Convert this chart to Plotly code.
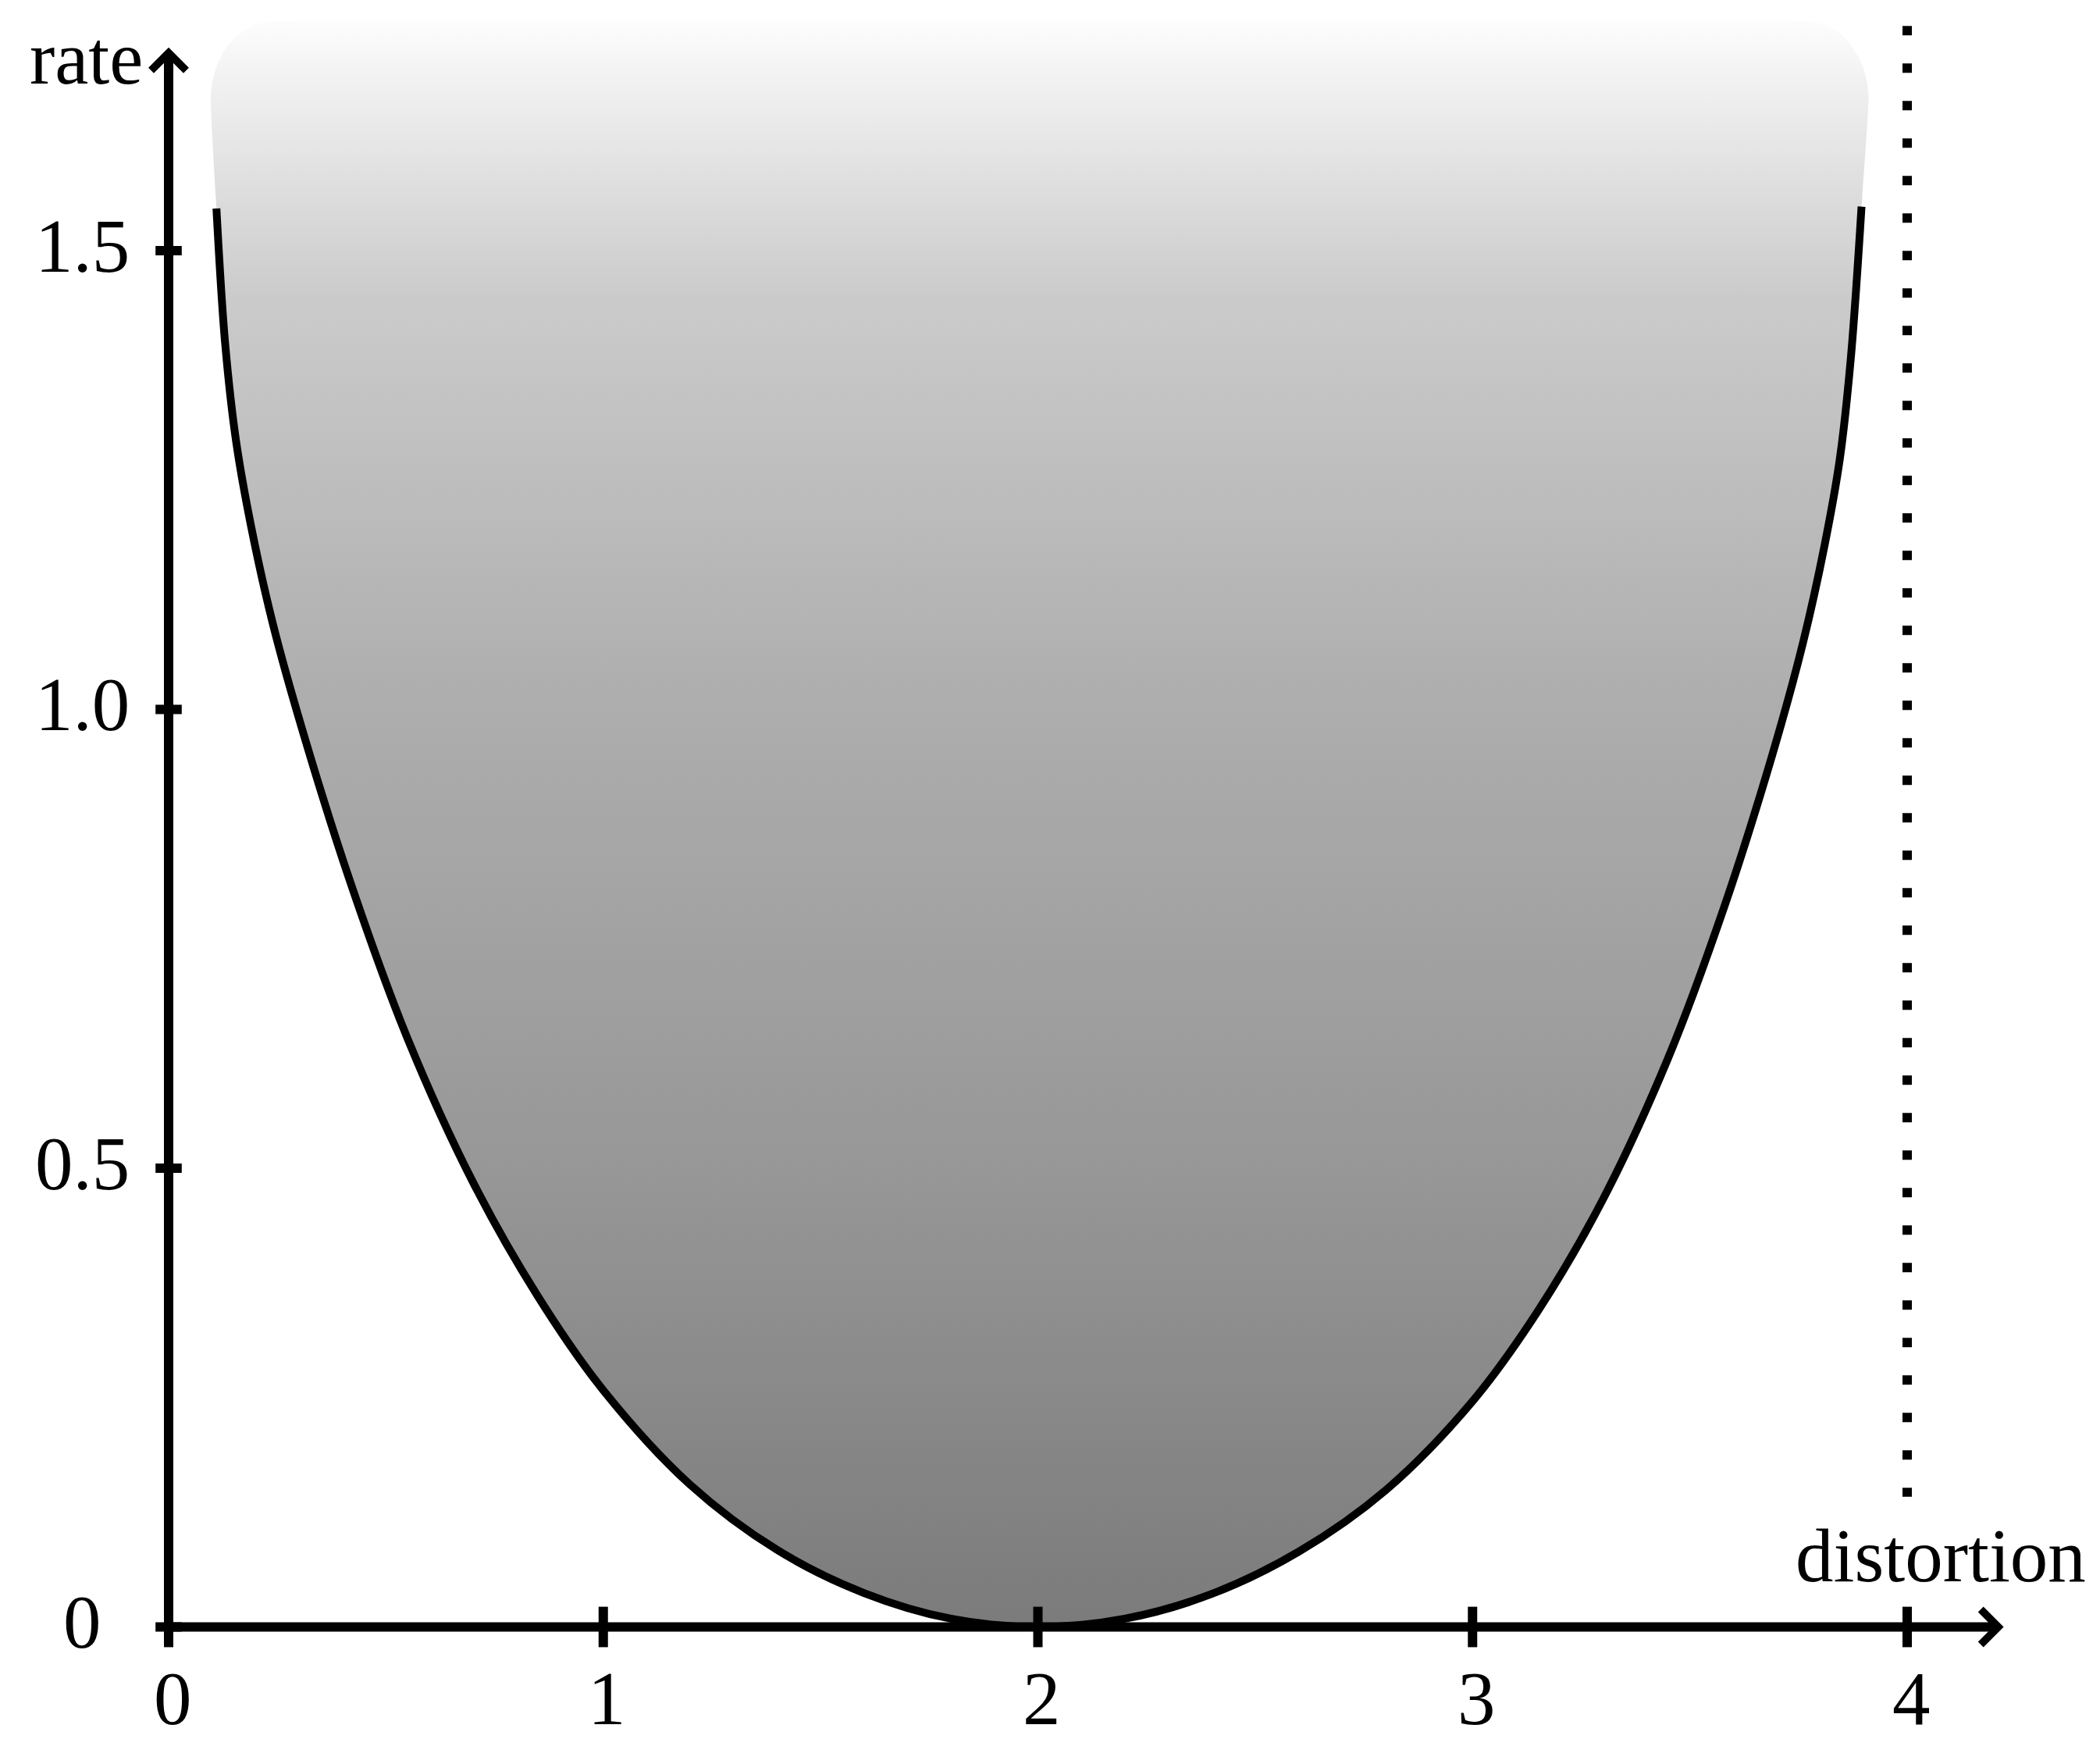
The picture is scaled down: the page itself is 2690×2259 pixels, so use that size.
import numpy as np
import plotly.graph_objects as go

# ---------------- data ----------------
distortion = [0.110, 0.130, 0.155, 0.190, 0.240, 0.310, 0.420, 0.550, 0.700, 0.850,
              1.000, 1.200, 1.400, 1.600, 1.800, 2.000,
              2.200, 2.400, 2.600, 2.800, 3.000, 3.150, 3.300, 3.450, 3.580, 3.690,
              3.760, 3.810, 3.845, 3.870, 3.895]
rate = [1.546, 1.399, 1.293, 1.199, 1.093, 0.974, 0.809, 0.641, 0.485, 0.360,
        0.258, 0.155, 0.084, 0.037, 0.009, 0.000,
        0.009, 0.036, 0.082, 0.149, 0.246, 0.344, 0.466, 0.620, 0.786, 0.951,
        1.072, 1.179, 1.273, 1.381, 1.548]

x_ticks = [0, 1, 2, 3, 4]
x_tick_labels = ["0", "1", "2", "3", "4"]
y_ticks = [0, 0.5, 1.0, 1.5]
y_tick_labels = ["0", "0.5", "1.0", "1.5"]

d_max = 4               # dotted vertical line
region_top = 1.75       # top of the shaded achievable region
region_left = 0.097
region_right = 3.911

x_label = "distortion"
y_label = "rate"

# ---------------- layout constants ----------------
W, H = 2690, 2259
PAGE_OFFSET = 8                # default body margin of the html page
X0PX, UX = 216.0 - PAGE_OFFSET, 556.75   # pixel of x=0 inside the figure, px per x unit
Y0PX, UY = 2083.5 - PAGE_OFFSET, 1175.0  # pixel of y=0 (from top), px per y unit
x_range = [-X0PX / UX, (W - X0PX) / UX]
y_range = [-(H - Y0PX) / UY, Y0PX / UY]

FONT = "Liberation Serif"
FS = 97
LW = 12

rx = 80 / UX
ry = 100 / UY


def arc(cx, cy, a0, a1, n=16):
    t = np.linspace(a0, a1, n)
    return list(cx + rx * np.cos(t)), list(cy + ry * np.sin(t))


# shaded region polygon: curve + rounded top
fx = list(distortion)
fy = list(rate)
ax_, ay_ = arc(region_right - rx, region_top - ry, 0, np.pi / 2)
fx += ax_
fy += ay_
bx_, by_ = arc(region_left + rx, region_top - ry, np.pi / 2, np.pi)
fx += bx_
fy += by_
fx.append(distortion[0])
fy.append(rate[0])

fig = go.Figure()

fig.add_trace(go.Scatter(
    x=fx, y=fy, mode="lines", fill="toself",
    line=dict(width=0, color="rgba(0,0,0,0)", shape="spline", smoothing=1.0),
    fillgradient=dict(
        type="vertical", start=0, stop=region_top,
        colorscale=[
            [0.0, "#7b7b7b"],
            [0.2857, "#979797"],
            [0.5714, "#adadad"],
            [0.8286, "#cbcbcb"],
            [0.8686, "#d6d6d6"],
            [0.914, "#e3e3e3"],
            [0.9657, "#f2f2f2"],
            [1.0, "#fdfdfd"],
        ],
    ),
    hoverinfo="skip", showlegend=False,
))

fig.add_trace(go.Scatter(
    x=distortion, y=rate, mode="lines",
    line=dict(color="black", width=10, shape="spline", smoothing=1.0),
    cliponaxis=False, showlegend=False,
))

# tick marks
fig.add_trace(go.Scatter(
    x=x_ticks, y=[0] * len(x_ticks), mode="markers",
    marker=dict(symbol="line-ns", size=37, color="black",
                line=dict(width=LW, color="black")),
    cliponaxis=False, showlegend=False,
))
fig.add_trace(go.Scatter(
    x=[0] * len(y_ticks), y=y_ticks, mode="markers",
    marker=dict(symbol="line-ew", size=24, color="black",
                line=dict(width=LW, color="black")),
    cliponaxis=False, showlegend=False,
))

annotations = []
# axes with arrows
annotations.append(dict(x=4.222, y=0, ax=0, ay=0, xref="x", yref="y", axref="x", ayref="y",
                        text="", showarrow=True, arrowhead=4, arrowwidth=LW, arrowsize=0.72,
                        arrowcolor="black"))
annotations.append(dict(x=0, y=1.7214, ax=0, ay=0, xref="x", yref="y", axref="x", ayref="y",
                        text="", showarrow=True, arrowhead=4, arrowwidth=LW, arrowsize=0.72,
                        arrowcolor="black"))

# tick labels
for v, t in zip(x_ticks, x_tick_labels):
    annotations.append(dict(x=v, y=0, xref="x", yref="y", text=t, showarrow=False,
                            xanchor="center", yanchor="middle", yshift=-92, xshift=5,
                            font=dict(family=FONT, size=FS, color="black")))
for v, t in zip(y_ticks, y_tick_labels):
    annotations.append(dict(x=0, y=v, xref="x", yref="y", text=t, showarrow=False,
                            xanchor="center", yanchor="middle", xshift=-111, yshift=6,
                            font=dict(family=FONT, size=FS, color="black")))

# axis titles
annotations.append(dict(x=0, y=1.7214, xref="x", yref="y", text=y_label, showarrow=False,
                        xanchor="center", yanchor="middle", xshift=-106, yshift=-14,
                        font=dict(family=FONT, size=FS, color="black")))
annotations.append(dict(x=d_max, y=0, xref="x", yref="y", text=x_label, showarrow=False,
                        xanchor="center", yanchor="middle", xshift=43, yshift=91,
                        font=dict(family=FONT, size=FS, color="black")))

fig.add_shape(type="line", xref="x", yref="y", x0=d_max, x1=d_max, y0=1.745, y1=0.142,
              line=dict(color="black", width=12, dash="12px,36px"))

fig.update_layout(
    width=W, height=H, autosize=False,
    margin=dict(l=0, r=0, t=0, b=0),
    paper_bgcolor="white", plot_bgcolor="white",
    xaxis=dict(range=x_range, visible=False, fixedrange=True),
    yaxis=dict(range=y_range, visible=False, fixedrange=True),
    annotations=annotations,
    showlegend=False,
)

fig.write_html("out.html")
